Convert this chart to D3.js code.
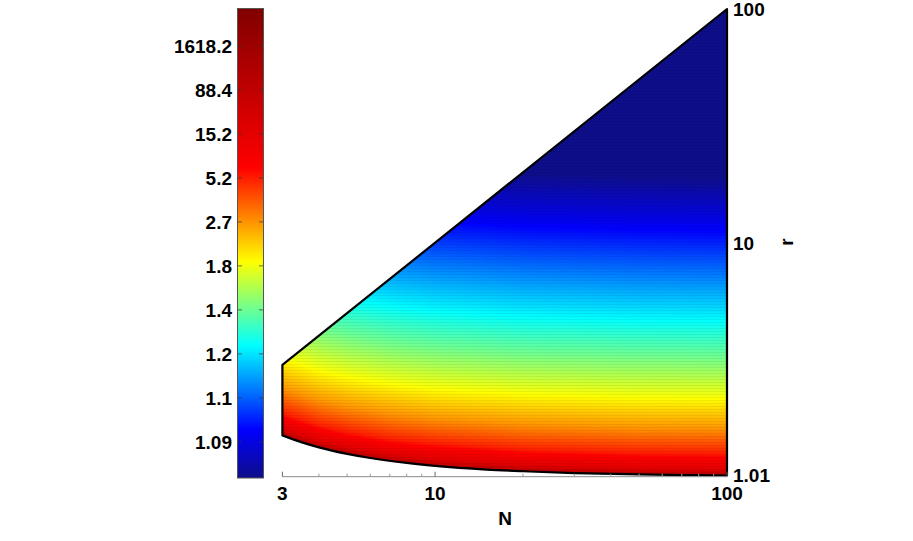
<!DOCTYPE html>
<html><head><meta charset="utf-8">
<script src="https://cdn.jsdelivr.net/npm/d3@7"></script>
<style>
body{margin:0;background:#fff;}
svg{display:block;}
text{font-family:"Liberation Sans",Arial,sans-serif;font-weight:bold;font-size:19px;fill:#000;}
</style>
</head><body>
<svg id="chart" width="913" height="541"></svg>
<script>
// ---------------- data ----------------
// N columns at which the colour levels were read
const nColumns = [3, 4, 5, 7, 10, 20, 50, 100];
// colour levels (quantity shown by the colour bar)
const levelValues = [1.0511, 1.0855, 1.1449, 1.25, 1.4447, 1.834, 2.7183, 5.2, 15.154, 88.38, 1618.2];
// r at which each level is reached, one list per N column
const isoR_N3   = [30.9, 19.0, 11.9, 7.50, 4.87, 3.30, 2.37, 1.86, 1.61, 1.52, 1.501];
const isoR_N4   = [27.4, 16.9, 10.5, 6.67, 4.33, 2.93, 2.11, 1.65, 1.43, 1.349, 1.334];
const isoR_N5   = [25.7, 15.9, 9.88, 6.25, 4.06, 2.75, 1.98, 1.55, 1.34, 1.264, 1.251];
const isoR_N7   = [24.0, 14.8, 9.22, 5.83, 3.79, 2.57, 1.85, 1.44, 1.25, 1.180, 1.167];
const isoR_N10  = [22.9, 14.1, 8.78, 5.56, 3.61, 2.44, 1.76, 1.38, 1.19, 1.124, 1.112];
const isoR_N20  = [21.7, 13.4, 8.32, 5.26, 3.42, 2.32, 1.67, 1.30, 1.13, 1.065, 1.053];
const isoR_N50  = [21.0, 13.0, 8.06, 5.10, 3.32, 2.24, 1.61, 1.26, 1.09, 1.032, 1.021];
const isoR_N100 = [20.8, 12.8, 7.98, 5.05, 3.28, 2.22, 1.60, 1.25, 1.08, 1.022, 1.011];
// domain boundary
const boundaryN = [3, 3.5, 4, 5, 6, 8, 10, 15, 20, 30, 50, 70, 100];
const lowerR    = [1.5, 1.4, 1.333, 1.25, 1.2, 1.143, 1.111, 1.071, 1.053, 1.034, 1.0204, 1.0145, 1.0101];
const upperN    = [3, 100];
const upperR    = [3, 100];
// ticks
const xTickValues = [3, 10, 100];
const xTickLabels = ["3", "10", "100"];
const xMinorTicks = [4, 5, 6, 7, 8, 9, 20, 30, 40, 50, 60, 70, 80, 90];
const yTickValues = [1.01, 10, 100];
const yTickLabels = ["1.01", "10", "100"];
const colorbarTickValues = [1.0855, 1.1449, 1.25, 1.4447, 1.834, 2.7183, 5.2, 15.154, 88.38, 1618.2];
const colorbarTickLabels = ["1.09", "1.1", "1.2", "1.4", "1.8", "2.7", "5.2", "15.2", "88.4", "1618.2"];

// ---------------- scales ----------------
const svg = d3.select("#chart");
const x = d3.scaleLog().domain([3, 100]).range([282.4, 727]);
const y = d3.scaleLog().domain([1.01, 100]).range([475.5, 9]);
const dbl = v => Math.log(Math.log(v));      // colour bar is linear in ln(ln v)
const cbY = d3.scaleLinear().domain([-2.91, 2.43]).range([478, 8]);
const cStops = [-2.91, -2.36, -1.40, -0.45, 0.62, 2.43];
const cColors = ["#0e0e8a", "#0000ff", "#00ffff", "#ffff00", "#ff0000", "#800000"];
const color = d3.scaleLinear().domain(cStops).range(cColors).interpolate(d3.interpolateRgb).clamp(true);

const isoTable = [isoR_N3, isoR_N4, isoR_N5, isoR_N7, isoR_N10, isoR_N20, isoR_N50, isoR_N100];
const levelC = levelValues.map(dbl);

function fieldC(N, r) {
  const lnr = Math.log(r);
  let i = d3.bisectRight(nColumns, N) - 1;
  i = Math.max(0, Math.min(nColumns.length - 2, i));
  const t = (Math.log(N) - Math.log(nColumns[i])) / (Math.log(nColumns[i + 1]) - Math.log(nColumns[i]));
  const a = isoTable[i], b = isoTable[i + 1];
  let prevLr = null;
  for (let j = 0; j < levelC.length; j++) {
    const lr = (1 - t) * Math.log(a[j]) + t * Math.log(b[j]);
    if (lnr >= lr) {
      if (j === 0) return levelC[0];
      const u = (prevLr - lnr) / (prevLr - lr);
      return levelC[j - 1] + u * (levelC[j] - levelC[j - 1]);
    }
    prevLr = lr;
  }
  return levelC[levelC.length - 1] + 0.4;
}

// ---------------- colour field ----------------
const X0 = 278, Y0 = 4, W = 455, H = 478;
const canvas = document.createElement("canvas");
canvas.width = W; canvas.height = H;
const ctx = canvas.getContext("2d");
const img = ctx.createImageData(W, H);
for (let py = 0; py < H; py++) {
  const r = y.invert(Y0 + py + 0.5);
  const shade = (py % 3 === 0) ? 0.94 : 1;   // faint row banding as in the rendered surface
  for (let px = 0; px < W; px++) {
    const N = Math.max(3, Math.min(100, x.invert(X0 + px + 0.5)));
    const col = d3.rgb(color(fieldC(N, r)));
    const k = (py * W + px) * 4;
    img.data[k] = col.r * shade; img.data[k + 1] = col.g * shade; img.data[k + 2] = col.b * shade; img.data[k + 3] = 255;
  }
}
ctx.putImageData(img, 0, 0);

// domain outline path
const lowerLine = d3.line().x(d => x(d[0])).y(d => y(d[1])).curve(d3.curveMonotoneX);
const lowerPts = boundaryN.map((n, i) => [n, lowerR[i]]);
const domainPath = lowerLine(lowerPts) +
  `L${x(upperN[1])},${y(upperR[1])}L${x(upperN[0])},${y(upperR[0])}Z`;

const defs = svg.append("defs");
defs.append("clipPath").attr("id", "dom").append("path").attr("d", domainPath);

svg.append("image")
  .attr("x", X0).attr("y", Y0).attr("width", W).attr("height", H)
  .attr("preserveAspectRatio", "none")
  .attr("href", canvas.toDataURL())
  .attr("clip-path", "url(#dom)");

svg.append("path").attr("d", domainPath)
  .attr("fill", "none").attr("stroke", "#000").attr("stroke-width", 2.2)
  .attr("stroke-linejoin", "round");

// ---------------- x axis ----------------
const axisY = 476.7;
svg.append("line").attr("x1", x(3)).attr("x2", x(100)).attr("y1", axisY).attr("y2", axisY)
  .attr("stroke", "#8a8a8a").attr("stroke-width", 1);
svg.selectAll(".xmaj").data(xTickValues).enter().append("line")
  .attr("x1", d => x(d)).attr("x2", d => x(d)).attr("y1", axisY).attr("y2", axisY - 5)
  .attr("stroke", "#6a6a6a");
svg.selectAll(".xmin").data(xMinorTicks).enter().append("line")
  .attr("x1", d => x(d)).attr("x2", d => x(d)).attr("y1", axisY).attr("y2", axisY - 3)
  .attr("stroke", "#9a9a9a");
svg.selectAll(".xlab").data(xTickValues).enter().append("text")
  .attr("x", d => x(d)).attr("y", 500).attr("text-anchor", "middle")
  .text((d, i) => xTickLabels[i]);
svg.append("text").attr("x", 505).attr("y", 525).attr("text-anchor", "middle").text("N");

// ---------------- y axis (right) ----------------
svg.selectAll(".ylab").data(yTickValues).enter().append("text")
  .attr("x", 733).attr("y", d => y(d)).attr("dy", "0.36em")
  .text((d, i) => yTickLabels[i]);
svg.append("text").attr("transform", "translate(793,242) rotate(-90)")
  .attr("text-anchor", "middle").text("r");

// ---------------- colour bar ----------------
const grad = defs.append("linearGradient").attr("id", "cb")
  .attr("x1", 0).attr("y1", 1).attr("x2", 0).attr("y2", 0);
cStops.forEach((c, i) => {
  grad.append("stop").attr("offset", (c - cStops[0]) / (cStops[cStops.length - 1] - cStops[0]))
    .attr("stop-color", cColors[i]);
});
svg.append("rect").attr("x", 237.5).attr("y", 8.5).attr("width", 26).attr("height", 469.5)
  .attr("fill", "url(#cb)").attr("stroke", "#555").attr("stroke-width", 1);
const cbTicks = colorbarTickValues.map(dbl);
svg.selectAll(".cbtl").data(cbTicks).enter().append("line")
  .attr("x1", 238).attr("x2", 242).attr("y1", d => cbY(d)).attr("y2", d => cbY(d))
  .attr("stroke", "#333").attr("stroke-opacity", 0.7);
svg.selectAll(".cbtr").data(cbTicks).enter().append("line")
  .attr("x1", 259).attr("x2", 263).attr("y1", d => cbY(d)).attr("y2", d => cbY(d))
  .attr("stroke", "#333").attr("stroke-opacity", 0.7);
svg.selectAll(".cblab").data(cbTicks).enter().append("text")
  .attr("x", 232).attr("y", d => cbY(d)).attr("dy", "0.36em").attr("text-anchor", "end")
  .text((d, i) => colorbarTickLabels[i]);
</script>
</body></html>
